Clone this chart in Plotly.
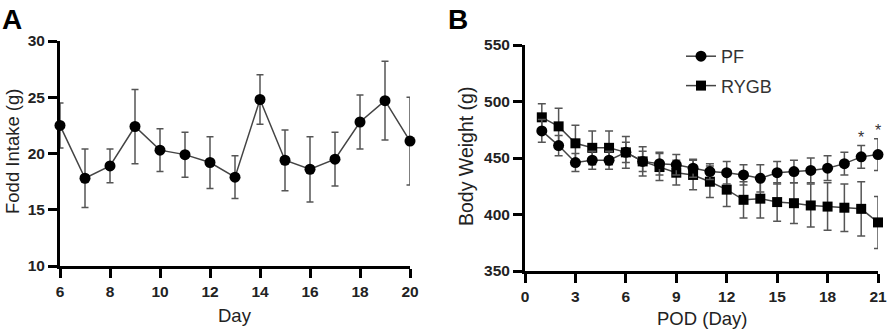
import plotly.graph_objects as go

# ---- Panel A data ----
days_a = [6, 7, 8, 9, 10, 11, 12, 13, 14, 15, 16, 17, 18, 19, 20]
food_mean = [22.5, 17.8, 18.9, 22.4, 20.3, 19.9, 19.2, 17.9, 24.8, 19.4, 18.6, 19.5, 22.8, 24.7, 21.1]
food_err = [2.0, 2.6, 1.5, 3.3, 1.9, 2.0, 2.3, 1.9, 2.2, 2.7, 2.9, 2.4, 2.4, 3.5, 3.9]

# ---- Panel B data ----
pod = list(range(1, 22))
pf_mean = [474, 461, 446, 448, 448, 455, 447, 445, 444, 441, 438, 437, 435, 432, 437, 438, 439, 441, 445, 451, 453]
pf_err = [10, 9, 8, 8, 8, 9, 9, 10, 9, 8, 7, 10, 9, 12, 10, 10, 11, 11, 10, 10, 14]
rygb_mean = [486, 478, 463, 459, 459, 455, 447, 442, 437, 435, 429, 422, 413, 414, 411, 410, 408, 407, 406, 405, 393]
rygb_err = [12, 16, 16, 15, 15, 14, 13, 12, 11, 13, 14, 15, 16, 17, 17, 18, 19, 21, 21, 24, 23]
star_days = [20, 21]

W, H = 888, 332
def px(x):
    return x / W
def py(y):
    return (H - y) / H

LINE = "#444444"
ERR = "#555555"
TXT = "#222222"
FONT = "Liberation Sans, Arial, sans-serif"

fig = go.Figure()

fig.add_trace(go.Scatter(
    x=days_a, y=food_mean, mode="lines+markers", showlegend=False,
    line=dict(color=LINE, width=1.5),
    marker=dict(color="black", size=11, symbol="circle"),
    error_y=dict(type="data", array=food_err, color=ERR, thickness=1.5, width=3.5),
    xaxis="x", yaxis="y", cliponaxis=False,
))

fig.add_trace(go.Scatter(
    x=pod, y=rygb_mean, mode="lines+markers", name="RYGB", legendgroup="r", legendrank=2,
    line=dict(color=LINE, width=1.5),
    marker=dict(color="black", size=10, symbol="square"),
    error_y=dict(type="data", array=rygb_err, color=ERR, thickness=1.5, width=4),
    xaxis="x2", yaxis="y2", cliponaxis=False,
))
fig.add_trace(go.Scatter(
    x=pod, y=pf_mean, mode="lines+markers", name="PF", legendgroup="p", legendrank=1,
    line=dict(color=LINE, width=1.5),
    marker=dict(color="black", size=11, symbol="circle"),
    error_y=dict(type="data", array=pf_err, color=ERR, thickness=1.5, width=4),
    xaxis="x2", yaxis="y2", cliponaxis=False,
))

axis_common = dict(
    showgrid=False, zeroline=False, showline=True, linecolor="black", linewidth=3,
    ticks="outside", ticklen=9, tickwidth=3, tickcolor="black",
    tickfont=dict(family=FONT, size=15.5, color=TXT, weight="bold"),
    automargin=False, fixedrange=True, ticklabeloverflow="allow",
)

fig.update_layout(
    width=W, height=H,
    margin=dict(l=0, r=0, t=0, b=0),
    paper_bgcolor="white", plot_bgcolor="white",
    xaxis=dict(domain=[px(60), px(410)], range=[6, 20], tickvals=[6, 8, 10, 12, 14, 16, 18, 20],
               anchor="y", **axis_common),
    yaxis=dict(domain=[py(266), py(41)], range=[10, 30], tickvals=[10, 15, 20, 25, 30],
               anchor="x", **axis_common),
    xaxis2=dict(domain=[px(525), px(878)], range=[0, 21], tickvals=[0, 3, 6, 9, 12, 15, 18, 21],
                anchor="y2", **axis_common),
    yaxis2=dict(domain=[py(271), py(45)], range=[350, 550], tickvals=[350, 400, 450, 500, 550],
                anchor="x2", **axis_common),
    legend=dict(x=px(681), y=py(38), xanchor="left", yanchor="top",
                font=dict(family=FONT, size=18, color="#333333"),
                bgcolor="rgba(0,0,0,0)", traceorder="grouped", tracegroupgap=3,
                itemwidth=30),
    showlegend=True,
)

ann = []
ann.append(dict(text="<b>A</b>", x=px(0), y=py(2), xref="paper", yref="paper",
                xanchor="left", yanchor="top", showarrow=False,
                font=dict(family=FONT, size=28, color="black")))
ann.append(dict(text="<b>B</b>", x=px(446), y=py(2), xref="paper", yref="paper",
                xanchor="left", yanchor="top", showarrow=False,
                font=dict(family=FONT, size=28, color="black")))
ann.append(dict(text="Fodd Intake (g)", x=px(12), y=py(152), xref="paper", yref="paper",
                xanchor="center", yanchor="middle", textangle=-90, showarrow=False,
                font=dict(family=FONT, size=18.5, color=TXT)))
ann.append(dict(text="Body Weight (g)", x=px(466), y=py(157), xref="paper", yref="paper",
                xanchor="center", yanchor="middle", textangle=-90, showarrow=False,
                font=dict(family=FONT, size=19.5, color=TXT)))
ann.append(dict(text="Day", x=px(235), y=py(315), xref="paper", yref="paper",
                xanchor="center", yanchor="middle", showarrow=False,
                font=dict(family=FONT, size=18.5, color=TXT)))
ann.append(dict(text="POD (Day)", x=px(702), y=py(318), xref="paper", yref="paper",
                xanchor="center", yanchor="middle", showarrow=False,
                font=dict(family=FONT, size=18.5, color=TXT)))
for d in star_days:
    i = pod.index(d)
    ann.append(dict(text="*", x=d, y=pf_mean[i] + pf_err[i], xref="x2", yref="y2",
                    xanchor="center", yanchor="bottom", showarrow=False, yshift=-2,
                    font=dict(family=FONT, size=16, color="#333333")))
fig.update_layout(annotations=ann)

fig.write_html(
    "out.html",
    config={"displayModeBar": False},
    post_script="document.body.style.margin='0';document.body.style.overflow='hidden';",
)
